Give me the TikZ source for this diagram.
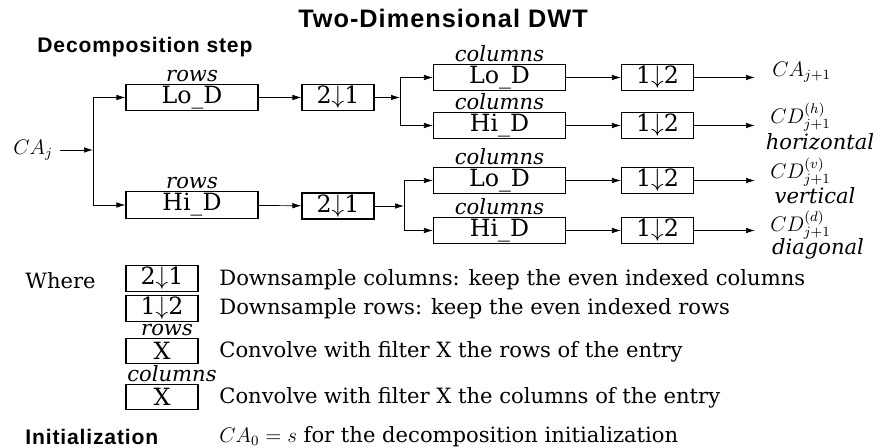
\documentclass[tikz,border=0pt,12pt]{standalone}
\usepackage{fontspec}
\setmainfont{DejaVu Serif}
\newfontfamily\headfont{Liberation Sans}[LetterSpace=4]
\usetikzlibrary{positioning,arrows.meta,calc}

\begin{document}
\begin{tikzpicture}[x=0.2mm, y=-0.2mm,
  filt/.style={draw, semithick, minimum width=26.4mm, minimum height=5mm, inner sep=1pt, font=\fontsize{13.5}{15}\selectfont},
  dsbox/.style={draw, semithick, minimum width=14.4mm, minimum height=5mm, inner sep=1pt, font=\fontsize{13.5}{15}\selectfont},
  tag/.style={font=\itshape, inner sep=1pt},
  arr/.style={-{Latex[length=1.8mm,width=1.1mm]}}]
\useasboundingbox (0,0) rectangle (887,448);
\node[font=\headfont\bfseries\large] (title) at (443,18) {Two-Dimensional DWT};
\node[font=\headfont\bfseries, anchor=west] (decomp) at (30,47) {Decomposition step};

% first level: rows
\node (caj) at (33,150) {$CA_j$};
\coordinate (s1) at (93,150);
\node[filt] (rlo) at (192,97.5) {Lo\_D};
\node[filt] (rhi) at (192,205) {Hi\_D};
\node[tag, above=0mm of rlo] (rlotag) {rows};
\node[tag, above=0mm of rhi] (rhitag) {rows};
\node[dsbox] (d1) at (338,97.5) {2$\downarrow$1};
\node[dsbox] (d2) at (338,206) {2$\downarrow$1};
\draw[arr] (caj) -- (s1);
\draw[arr] (s1) |- (rlo.west);
\draw[arr] (s1) |- (rhi.west);
\draw[arr] (rlo) -- (d1);
\draw[arr] (rhi) -- (d2);
\coordinate (s2) at (400,97.5);
\coordinate (s3) at (404,206);
\draw[arr] (d1) -- (s2);
\draw[arr] (d2) -- (s3);

% second level: columns
\node[filt] (c1) at (499.5,77.5) {Lo\_D};
\node[filt] (c2) at (499.5,125.5) {Hi\_D};
\node[filt] (c3) at (499.5,180.5) {Lo\_D};
\node[filt] (c4) at (499.5,230.5) {Hi\_D};
\foreach \i in {1,...,4} {
  \node[tag, above=0mm of c\i] (c\i tag) {columns};
  \node[dsbox] (u\i) at ($(c\i)+(158,0)$) {1$\downarrow$2};
  \coordinate (o\i) at ($(c\i)+(255.5,0)$);
  \draw[arr] (c\i) -- (u\i);
  \draw[arr] (u\i) -- (o\i);
}
\draw[arr] (s2) |- (c1.west);
\draw[arr] (s2) |- (c2.west);
\draw[arr] (s3) |- (c3.west);
\draw[arr] (s3) |- (c4.west);

% outputs
\node[anchor=west] (ca1) at (765,72) {$CA_{j+1}$};
\node[anchor=west, inner sep=0pt] (cdh) at (770,117) {$CD^{(h)}_{j+1}$};
\node[tag, inner sep=0pt] (hor) at (820,142) {horizontal};
\node[anchor=west, inner sep=0pt] (cdv) at (770,172) {$CD^{(v)}_{j+1}$};
\node[tag, inner sep=0pt] (ver) at (815,196) {vertical};
\node[anchor=west, inner sep=0pt] (cdd) at (770,225) {$CD^{(d)}_{j+1}$};
\node[tag, inner sep=0pt] (dia) at (818,249) {diagonal};

% legend
\node[anchor=west] (where) at (18,281) {Where};
\node[dsbox] (k21) at (162,278.5) {2$\downarrow$1};
\node[dsbox] (k12) at (162,308.5) {1$\downarrow$2};
\node[dsbox] (kr) at (162,351) {X};
\node[dsbox] (kc) at (162,397) {X};
\node[tag, above=0mm of kr, xshift=1mm] (krtag) {rows};
\node[tag, above=0mm of kc, xshift=2mm] (kctag) {columns};
\node[anchor=west] (t21) at (212,280) {Downsample columns: keep the even indexed columns};
\node[anchor=west] (t12) at (212,309) {Downsample rows: keep the even indexed rows};
\node[anchor=west] (tr) at (212,352) {Convolve with filter X the rows of the entry};
\node[anchor=west] (tc) at (212,398) {Convolve with filter X the columns of the entry};
\node[font=\headfont\bfseries, anchor=west] (init) at (18,437) {Initialization};
\node[anchor=west] (tinit) at (212,437) {$CA_0 = s$ for the decomposition initialization};
\end{tikzpicture}
\end{document}
